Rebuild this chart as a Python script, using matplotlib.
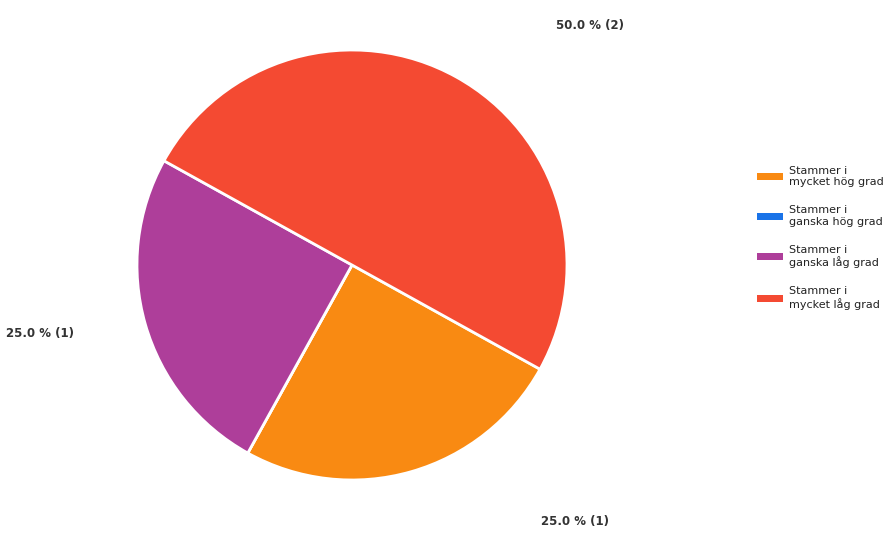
import matplotlib
matplotlib.use("Agg")
import matplotlib.pyplot as plt
from matplotlib.patches import Patch

categories = ["Stammer i\nmycket hög grad", "Stammer i\nganska hög grad",
              "Stammer i\nganska låg grad", "Stammer i\nmycket låg grad"]
counts = [1, 0, 1, 2]
colors = ["#F98A12", "#1A73E8", "#AE3E9A", "#F44A32"]

total = sum(counts)
fig = plt.figure(figsize=(8.94, 5.35), dpi=100)
ax = fig.add_axes([137/894, 55/535, 430/894, 430/535])

wedges, _ = ax.pie(counts, colors=colors, startangle=-29, counterclock=False,
                   radius=1.0, wedgeprops=dict(edgecolor="white", linewidth=2))
ax.set_xlim(-1, 1)
ax.set_ylim(-1, 1)
ax.set_aspect("equal")
ax.axis("off")

def lab(i):
    return f"{counts[i] / total * 100:.1f} % ({counts[i]})"

label_pos = {3: (590/894, 1 - 25/535), 2: (40/894, 1 - 333/535), 0: (575/894, 1 - 522/535)}
for i, (x, y) in label_pos.items():
    fig.text(x, y, lab(i), ha="center", va="center", fontsize=8.5,
             color="#333333", fontweight="bold")

handles = [Patch(facecolor=c, edgecolor="none") for c in colors]
fig.legend(handles, categories, loc="center left", bbox_to_anchor=(757/894, 1 - 238/535),
           frameon=False, fontsize=8, handlelength=2.3, handleheight=0.6,
           labelspacing=1.6, handletextpad=0.6, labelcolor="#222222",
           borderpad=0, borderaxespad=0)

fig.savefig("out.png", dpi=100)
